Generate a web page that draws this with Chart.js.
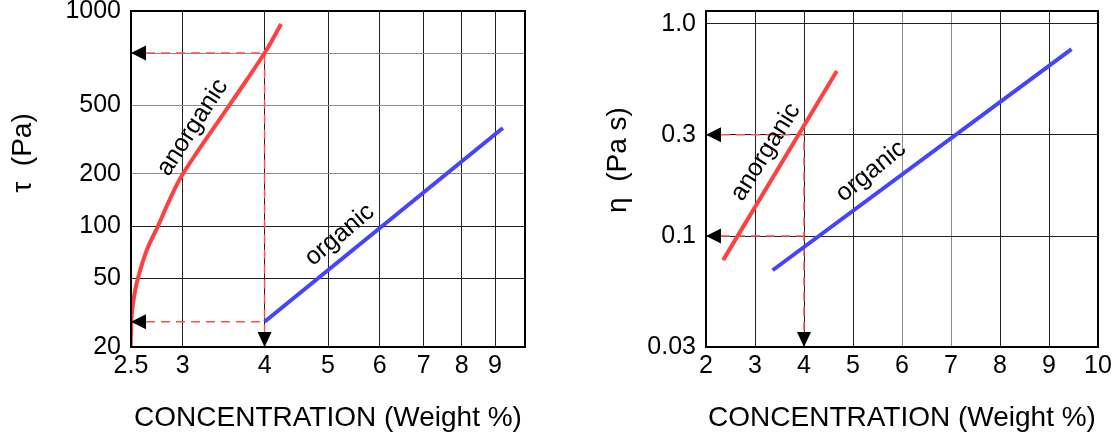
<html>
<head>
<script src="https://cdn.jsdelivr.net/npm/chart.js"></script>
<style>
  body { margin: 0; background: #fff; }
  .panel { position: absolute; top: 0; height: 436px; }
</style>
</head>
<body>
  <div class="panel" style="left:0; width:560px"><canvas id="tauChart" width="560" height="436"></canvas></div>
  <div class="panel" style="left:560px; width:559px"><canvas id="etaChart" width="559" height="436"></canvas></div>
<script>
// ---- left panel: tau (Pa) vs concentration, log-log ----
var tauAnorgX = [2.497, 2.504, 2.527, 2.562, 2.644, 2.749, 2.867, 3.0, 3.567, 4.0, 4.24];
var tauAnorgY = [20, 29.4, 39.2, 50, 72.9, 100, 143, 200, 525, 1000, 1471];
var tauOrgX = [4, 9.25];
var tauOrgY = [28, 369];
var tauGuideX = [2.5, 4, 4];
var tauGuideY = [1000, 1000, 20];
var tauGuide2X = [2.5, 4];
var tauGuide2Y = [28, 28];
var tauXTicks = [2.5, 3, 4, 5, 6, 7, 8, 9, 10];
var tauXLabels = ['2.5', '3', '4', '5', '6', '7', '8', '9', ''];
var tauYTicks = [20, 50, 100, 200, 500, 1000, 1750];
var tauYLabels = ['20', '50', '100', '200', '500', '', '1000'];

// ---- right panel: eta (Pa s) vs concentration, lin-log ----
var etaAnorgX = [2.35, 4.67];
var etaAnorgY = [0.077, 0.6];
var etaOrgX = [3.36, 9.46];
var etaOrgY = [0.069, 0.76];
var etaGuideX = [2, 4, 4];
var etaGuideY = [0.3, 0.3, 0.03];
var etaGuide2X = [2, 4];
var etaGuide2Y = [0.1, 0.1];
var etaYTicks = [0.03, 0.1, 0.3, 1.0, 1.15];
var etaYLabels = ['0.03', '0.1', '0.3', '1.0', ''];

const FONT = "'Liberation Sans', Arial, sans-serif";
const RED = '#ff4040';
const BLUE = '#4444ff';

function pts(xs, ys) {
  return xs.map((x, i) => ({ x: x, y: ys[i] }));
}

function curve(xs, ys, color, tension) {
  return { data: pts(xs, ys), borderColor: color, borderWidth: 4, pointRadius: 0,
           tension: tension || 0, order: 1, borderCapStyle: 'butt' };
}

function guide(xs, ys) {
  return { data: pts(xs, ys), borderColor: '#ff5050', borderWidth: 1.5, borderDash: [9, 6],
           pointRadius: 0, order: 2 };
}

// arrowheads, curve names, y title and frame
const decor = {
  id: 'decor',
  afterDatasetsDraw(chart, args, opts) {
    const ctx = chart.ctx, xs = chart.scales.x, ys = chart.scales.y, a = chart.chartArea;
    ctx.save();
    ctx.fillStyle = '#000';
    opts.arrows.forEach(ar => {
      const px = xs.getPixelForValue(ar.x), py = ys.getPixelForValue(ar.y);
      ctx.beginPath();
      if (ar.dir === 'left') {
        ctx.moveTo(px, py); ctx.lineTo(px + 15, py - 7.5); ctx.lineTo(px + 15, py + 7.5);
      } else {
        ctx.moveTo(px, py); ctx.lineTo(px - 7, py - 15); ctx.lineTo(px + 7, py - 15);
      }
      ctx.closePath();
      ctx.fill();
    });
    ctx.font = '25px ' + FONT;
    ctx.textAlign = 'center';
    ctx.textBaseline = 'middle';
    opts.labels.forEach(l => {
      ctx.save();
      ctx.translate(xs.getPixelForValue(l.x), ys.getPixelForValue(l.y));
      ctx.rotate(l.angle * Math.PI / 180);
      ctx.fillText(l.text, 0, 0);
      ctx.restore();
    });
    ctx.save();
    ctx.font = '28px ' + FONT;
    ctx.translate(opts.yTitle.x, opts.yTitle.y);
    ctx.rotate(-Math.PI / 2);
    ctx.fillText(opts.yTitle.text, 0, 0);
    ctx.restore();
    ctx.strokeStyle = '#000';
    ctx.lineWidth = 2;
    ctx.strokeRect(a.left, a.top, a.right - a.left, a.bottom - a.top);
    ctx.restore();
  }
};

function xTitle() {
  return { display: true, text: 'CONCENTRATION (Weight %)', color: '#000',
           font: { family: FONT, size: 28 }, padding: { top: 0, bottom: 1 } };
}

// fixed axis box sizes so the plot frames land where the reference has them
function fixY(w) {
  return s => { s.width = w; s.paddingTop = 0; s.paddingBottom = 0; };
}

new Chart(document.getElementById('tauChart'), {
  type: 'line',
  data: { datasets: [
    curve(tauAnorgX, tauAnorgY, RED, 0.4),
    curve(tauOrgX, tauOrgY, BLUE),
    guide(tauGuideX, tauGuideY),
    guide(tauGuide2X, tauGuide2Y)
  ] },
  options: {
    responsive: false, animation: false,
    layout: { padding: { left: 0, right: 35, top: 11, bottom: 0 } },
    plugins: {
      legend: { display: false }, tooltip: { enabled: false },
      decor: {
        arrows: [{ x: 2.5, y: 1000, dir: 'left' }, { x: 2.5, y: 28, dir: 'left' }, { x: 4, y: 20, dir: 'down' }],
        labels: [{ x: 3.105, y: 371, text: 'anorganic', angle: -57 },
                 { x: 5.21, y: 88.8, text: 'organic', angle: -40 }],
        yTitle: { x: 23, y: 153, text: 'τ  (Pa)' }
      }
    },
    scales: {
      x: {
        type: 'logarithmic', min: 2.5, max: 10,
        afterBuildTicks: s => { s.ticks = tauXTicks.map(v => ({ value: v })); },
        afterFit: s => { s.height = 89; },
        ticks: { callback: (v, i) => tauXLabels[i], color: '#000', font: { family: FONT, size: 25 },
                 padding: 4, maxRotation: 0, autoSkip: false },
        grid: { color: '#222', drawTicks: false },
        border: { display: false },
        title: xTitle()
      },
      y: {
        type: 'logarithmic', min: 20, max: 1750,
        afterBuildTicks: s => { s.ticks = tauYTicks.map(v => ({ value: v })); },
        afterFit: fixY(131),
        ticks: { callback: (v, i) => tauYLabels[i], color: '#000',
                 font: { family: FONT, size: 25 }, padding: 10, autoSkip: false },
        grid: { color: c => (c.tick && [200, 500, 1000].includes(c.tick.value)) ? '#8c8c8c' : '#222',
                drawTicks: false },
        border: { display: false }
      }
    }
  },
  plugins: [decor]
});

new Chart(document.getElementById('etaChart'), {
  type: 'line',
  data: { datasets: [
    curve(etaAnorgX, etaAnorgY, RED),
    curve(etaOrgX, etaOrgY, BLUE),
    guide(etaGuideX, etaGuideY),
    guide(etaGuide2X, etaGuide2Y)
  ] },
  options: {
    responsive: false, animation: false,
    layout: { padding: { left: 0, right: 21, top: 11, bottom: 0 } },
    plugins: {
      legend: { display: false }, tooltip: { enabled: false },
      decor: {
        arrows: [{ x: 2, y: 0.3, dir: 'left' }, { x: 2, y: 0.1, dir: 'left' }, { x: 4, y: 0.03, dir: 'down' }],
        labels: [{ x: 3.22, y: 0.249, text: 'anorganic', angle: -58 },
                 { x: 5.37, y: 0.202, text: 'organic', angle: -39 }],
        yTitle: { x: 58, y: 160, text: 'η  (Pa s)' }
      }
    },
    scales: {
      x: {
        type: 'linear', min: 2, max: 10,
        afterFit: s => { s.height = 89; },
        ticks: { stepSize: 1, color: '#000', font: { family: FONT, size: 25 }, padding: 4, maxRotation: 0 },
        grid: { color: c => (c.tick && [6, 7].includes(c.tick.value)) ? '#8c8c8c' : '#222', drawTicks: false },
        border: { display: false },
        title: xTitle()
      },
      y: {
        type: 'logarithmic', min: 0.03, max: 1.15,
        afterBuildTicks: s => { s.ticks = etaYTicks.map(v => ({ value: v })); },
        afterFit: fixY(146),
        ticks: { callback: (v, i) => etaYLabels[i], color: '#000',
                 font: { family: FONT, size: 25 }, padding: 10, autoSkip: false },
        grid: { color: '#222', drawTicks: false },
        border: { display: false }
      }
    }
  },
  plugins: [decor]
});
</script>
</body>
</html>
